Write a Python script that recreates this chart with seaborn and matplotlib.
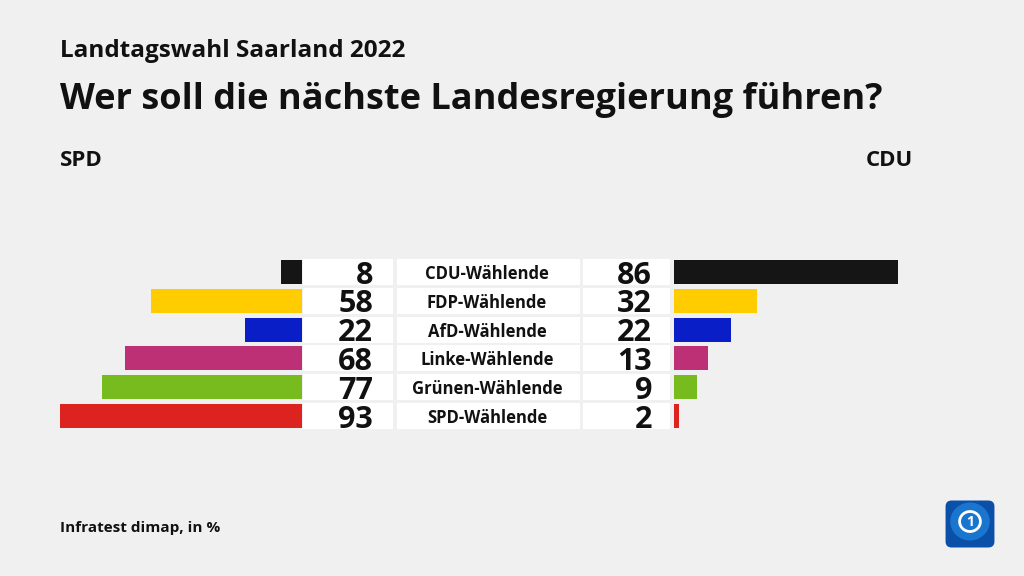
import numpy as np
import pandas as pd
import matplotlib
matplotlib.use("Agg")
import matplotlib.pyplot as plt
import seaborn as sns
from matplotlib.patches import FancyBboxPatch, Circle

# --- data -------------------------------------------------------------
groups = ["CDU-Wählende", "FDP-Wählende", "AfD-Wählende",
          "Linke-Wählende", "Grünen-Wählende", "SPD-Wählende"]
spd_values = [8, 58, 22, 68, 77, 93]
cdu_values = [86, 32, 22, 13, 9, 2]
group_colors = ["#151515", "#ffcc00", "#0a1ec8", "#be3075", "#78bb1e", "#dc2320"]

title = "Wer soll die nächste Landesregierung führen?"
subtitle = "Landtagswahl Saarland 2022"
left_label = "SPD"
right_label = "CDU"
source = "Infratest dimap, in %"

BG = "#f0f0f0"
FONT = ["Open Sans", "DejaVu Sans"]

sns.set_theme(style="white")
plt.rcParams["font.family"] = FONT

W, H = 1024, 576
fig = plt.figure(figsize=(W / 100, H / 100), dpi=100, facecolor=BG)

df = pd.DataFrame({"group": groups, "spd": spd_values, "cdu": cdu_values})

PX_PER_UNIT = 2.6
ROW_PX = 28.8
top_px = 272 - ROW_PX / 2
n = len(groups)


def px_axes(x0, x1):
    """axes spanning pixel columns x0..x1 and the rows band"""
    return fig.add_axes([x0 / W, 1 - (top_px + n * ROW_PX) / H,
                         (x1 - x0) / W, n * ROW_PX / H])


def clean(ax):
    ax.set_axis_off()
    ax.set_ylim(n - 0.5, -0.5)


# left bars (SPD)
axl = px_axes(0, 302)
sns.barplot(data=df, x="spd", y="group", hue="group", palette=group_colors,
            legend=False, width=0.83, ax=axl, saturation=1, linewidth=0)
axl.set_xlim(302 / PX_PER_UNIT, 0)
clean(axl)

# right bars (CDU)
axr = px_axes(674, W)
sns.barplot(data=df, x="cdu", y="group", hue="group", palette=group_colors,
            legend=False, width=0.83, ax=axr, saturation=1, linewidth=0)
axr.set_xlim(0, (W - 674) / PX_PER_UNIT)
clean(axr)

# middle: white boxes with numbers and labels (x in pixels)
axm = px_axes(303, 670)
axm.set_xlim(303, 670)
clean(axm)
ypos = np.arange(n)
for x0, x1 in [(303, 393), (397, 580), (583, 670)]:
    axm.barh(ypos, x1 - x0, left=x0, height=0.9, color="white", lw=0)
for i, (g, s, c) in enumerate(zip(groups, spd_values, cdu_values)):
    axm.text(373, i, str(s), ha="right", va="center_baseline",
             fontsize=22, fontweight="bold", color="#111111")
    axm.text(652, i, str(c), ha="right", va="center_baseline",
             fontsize=22, fontweight="bold", color="#111111")
    axm.text(487, i, g, ha="center", va="center_baseline",
             fontsize=12, fontweight="bold", color="#111111")

# headings
fig.text(60 / W, 1 - 51 / H, subtitle, fontsize=17.5, fontweight="bold",
         va="center", color="#111111")
fig.text(60 / W, 1 - 100 / H, title, fontsize=26, fontweight="bold",
         va="center", color="#111111")
fig.text(60 / W, 1 - 161 / H, left_label, fontsize=16, fontweight="bold",
         va="center", color="#111111")
fig.text(913 / W, 1 - 161 / H, right_label, fontsize=16, fontweight="bold",
         va="center", ha="right", color="#111111")
fig.text(60 / W, 1 - 528 / H, source, fontsize=11, fontweight="bold",
         va="center", color="#111111")

# logo
axlogo = fig.add_axes([944 / W, 1 - 549 / H, 52 / W, 50 / H])
axlogo.set_xlim(0, 1)
axlogo.set_ylim(0, 1)
axlogo.set_axis_off()
axlogo.add_patch(FancyBboxPatch((0.03, 0.03), 0.94, 0.94,
                                boxstyle="round,pad=0,rounding_size=0.12",
                                fc="#0a4fa8", ec="none"))
axlogo.add_patch(Circle((0.5, 0.55), 0.38, fc="#1f7fd8", ec="none", alpha=0.8))
axlogo.add_patch(Circle((0.5, 0.55), 0.2, fc="none", ec="white", lw=2))
axlogo.text(0.5, 0.55, "1", ha="center", va="center", color="white",
            fontsize=10, fontweight="bold")

fig.savefig("out.png", dpi=100, facecolor=BG)
